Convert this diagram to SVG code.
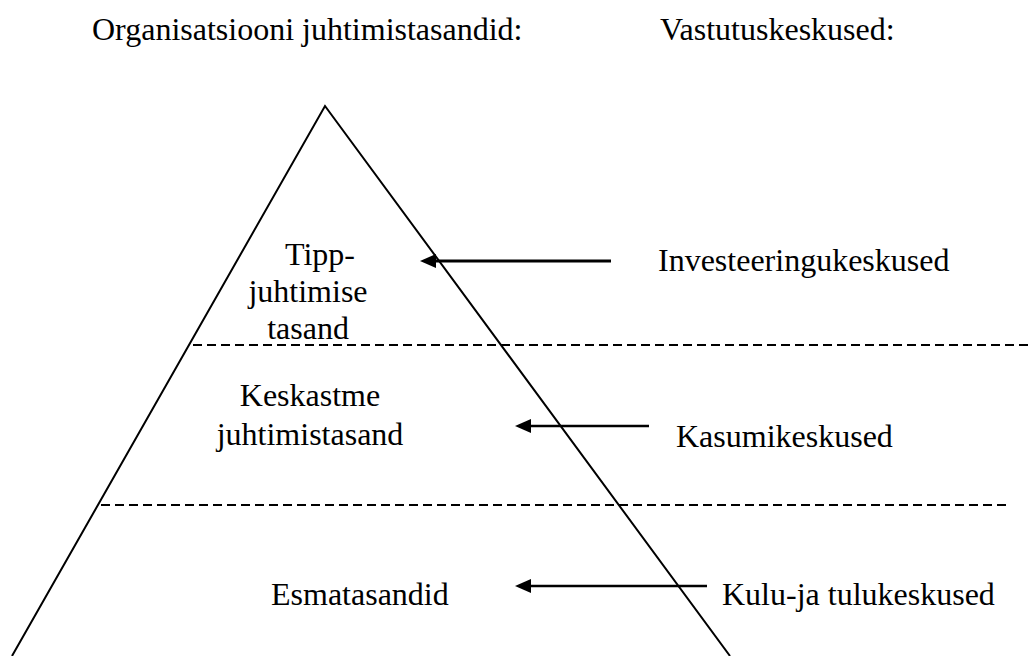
<svg xmlns="http://www.w3.org/2000/svg" width="1029" height="656" viewBox="0 0 1029 656" font-family="'Liberation Serif', 'Times New Roman', 'DejaVu Serif', serif">
<defs>
<style>
text{font-family:'Liberation Serif','Times New Roman','DejaVu Serif',serif;font-size:32px;fill:#000}
.edge{stroke:#000;stroke-width:2;fill:none}
.dash{stroke:#000;stroke-width:2;stroke-dasharray:9,5;fill:none}
.arrow{stroke:#000;stroke-width:2.6;fill:none}
</style>
<marker id="ah" markerWidth="16" markerHeight="14" refX="8" refY="7" orient="auto" markerUnits="userSpaceOnUse">
<path d="M0,0 L16,7 L0,14 Z" fill="#000"/>
</marker>
</defs>
<g id="headers">
<text x="92" y="40">Organisatsiooni juhtimistasandid:</text>
<text x="660" y="40">Vastutuskeskused:</text>
</g>
<g id="pyramid">
<path class="edge" d="M12,656 L325,106 L730,656"/>
</g>
<g id="levels">
<path class="dash" d="M193,345 L1029,345"/>
<path class="dash" d="M101,505 L1010,505"/>
</g>
<g id="node-tipp">
<text x="285" y="265">Tipp-</text>
<text x="308" y="302" text-anchor="middle">juhtimise</text>
<text x="308" y="339" text-anchor="middle">tasand</text>
</g>
<g id="node-keskastme">
<text x="310" y="406" text-anchor="middle">Keskastme</text>
<text x="310" y="445" text-anchor="middle">juhtimistasand</text>
</g>
<g id="node-esmatasandid">
<text x="271" y="605">Esmatasandid</text>
</g>
<g id="node-investeeringukeskused">
<text x="658" y="271">Investeeringukeskused</text>
</g>
<g id="node-kasumikeskused">
<text x="676" y="447">Kasumikeskused</text>
</g>
<g id="node-kulu">
<text x="722" y="605">Kulu-ja tulukeskused</text>
</g>
<g id="connectors">
<line class="arrow" style="stroke-width:3" x1="611" y1="261" x2="428" y2="261" marker-end="url(#ah)"/>
<line class="arrow" x1="649" y1="426" x2="523" y2="426" marker-end="url(#ah)"/>
<line class="arrow" x1="707" y1="586" x2="523" y2="586" marker-end="url(#ah)"/>
</g>
</svg>
